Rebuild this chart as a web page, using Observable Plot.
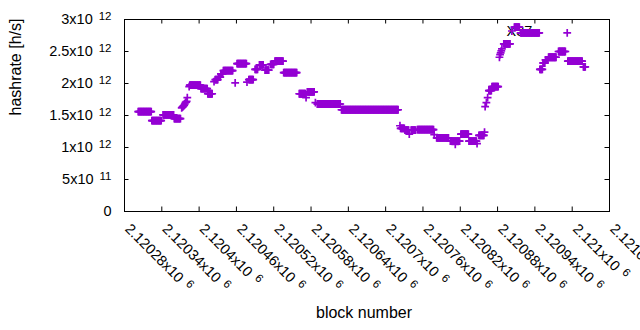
<!DOCTYPE html>
<html><head><meta charset="utf-8">
<script src="https://cdn.jsdelivr.net/npm/d3@7"></script>
<script src="https://cdn.jsdelivr.net/npm/@observablehq/plot@0.6"></script>
<style>html,body{margin:0;padding:0;background:#fff;}</style>
</head><body><div id="chart"></div>
<script>
// Runs of constant estimated hashrate (x10^12 h/s): one point per block from runStart to runEnd
const runStart = [2120302,2120324,2120342,2120360,2120372,2120373,2120374,2120375,2120376,2120377,2120378,2120379,2120380,2120381,2120384,
  2120385,2120403,2120414,2120424,2120426,2120431,2120435,2120439,2120458,2120461,2120477,2120480,2120490,2120497,2120506,2120515,
  2120522,2120536,2120561,2120572,2120574,2120587,2120590,2120629,2120723,2120724,2120731,2120738,2120741,2120751,2120778,
  2120782,2120804,2120812,2120821,2120834,2120847,2120850,2120859,2120860,2120862,2120864,2120866,2120871,2120883,2120884,
  2120885,2120886,2120887,2120890,2120903,2120907,2120917,2120948,2120953,2120957,2120962,2120978,2120992,2120993,2121018];
const runEnd = [2120323,2120339,2120359,2120370,2120372,2120373,2120374,2120375,2120376,2120377,2120378,2120379,2120380,2120381,2120384,
  2120402,2120413,2120421,2120424,2120430,2120434,2120438,2120454,2120458,2120476,2120477,2120487,2120494,2120503,2120512,2120520,
  2120535,2120557,2120571,2120572,2120585,2120587,2120627,2120720,2120723,2120730,2120737,2120738,2120748,2120777,2120778,
  2120801,2120819,2120812,2120833,2120846,2120847,2120858,2120859,2120860,2120862,2120864,2120870,2120881,2120883,2120884,
  2120885,2120886,2120887,2120900,2120903,2120915,2120947,2120952,2120956,2120961,2120974,2120989,2120992,2121016,2121021];
const runHash = [1.56,1.42,1.51,1.45,1.62,1.63,1.64,1.65,1.66,1.68,1.70,1.71,1.72,1.78,1.95,
  1.975,1.92,1.84,2.03,2.06,2.10,2.15,2.20,2.01,2.31,2.02,2.06,2.22,2.29,2.21,2.30,
  2.35,2.17,1.84,1.78,1.87,1.70,1.68,1.59,1.34,1.30,1.27,1.21,1.27,1.28,1.20,
  1.15,1.10,1.05,1.21,1.10,1.06,1.19,1.24,1.64,1.70,1.78,1.89,1.95,2.41,2.45,
  2.48,2.51,2.54,2.62,2.82,2.88,2.79,2.22,2.32,2.37,2.41,2.50,2.79,2.35,2.26];

const xTicks = [2120280,2120340,2120400,2120460,2120520,2120580,2120640,2120700,2120760,2120820,2120880,2120940,2121000,2121060];
const xTickLabels = ["2.12028x10^6","2.12034x10^6","2.1204x10^6","2.12046x10^6","2.12052x10^6","2.12058x10^6","2.12064x10^6",
  "2.1207x10^6","2.12076x10^6","2.12082x10^6","2.12088x10^6","2.12094x10^6","2.121x10^6","2.12106x10^6"];
const yTicks = [0,0.5,1,1.5,2,2.5,3];
const yTickLabels = ["0","5x10^11","1x10^12","1.5x10^12","2x10^12","2.5x10^12","3x10^12"];
const keyText = "X37";

const pts = [];
runStart.forEach((s, i) => { for (let b = s; b <= runEnd[i]; b++) pts.push({block: b, hash: runHash[i]}); });

const plus = { draw(ctx, size) { const h = Math.sqrt(size / Math.PI); ctx.moveTo(-h, 0); ctx.lineTo(h, 0); ctx.moveTo(0, -h); ctx.lineTo(0, h); } };

const mL = 124, mR = 31, mT = 19, mB = 119;
const W = 640 - mL - mR, H = 330 - mT - mB;
const chart = Plot.plot({
  width: 640, height: 330, marginLeft: mL, marginRight: mR, marginTop: mT, marginBottom: mB,
  x: {domain: [2120280, 2121060], axis: null},
  y: {domain: [0, 3], axis: null},
  style: {fontFamily: "'Liberation Sans', Arial, sans-serif", fontSize: "14.5px", color: "#000", background: "#fff"},
  marks: [
    Plot.text([keyText], {frameAnchor: "top-left", dx: 382, dy: 12, textAnchor: "start", lineAnchor: "middle", fill: "#000", fontSize: 14.5}),
    Plot.dot(pts, {x: "block", y: "hash", symbol: plus, r: 3.9, stroke: "#9400d3", strokeWidth: 1.7, fill: "none"}),
    Plot.ruleX(xTicks, {x: d => d, insetTop: H - 4.5, stroke: "#000"}),
    Plot.ruleX(xTicks, {x: d => d, insetBottom: H - 4.5, stroke: "#000"}),
    Plot.ruleY(yTicks, {y: d => d, insetRight: W - 4.5, stroke: "#000"}),
    Plot.ruleY(yTicks, {y: d => d, insetLeft: W - 4.5, stroke: "#000"}),
    Plot.frame({stroke: "#000"}),
    Plot.text(yTicks, {y: d => d, text: (d, i) => yTickLabels[i], frameAnchor: "left", dx: -13, textAnchor: "end", lineAnchor: "middle", fill: "#000"}),
    Plot.text(xTicks, {x: d => d, text: (d, i) => xTickLabels[i], frameAnchor: "bottom", dx: 3, dy: 15, rotate: 45, textAnchor: "start", lineAnchor: "middle", fill: "#000"}),
    Plot.text(["hashrate [h/s]"], {frameAnchor: "left", dx: -108.5, rotate: -90, fontSize: 16, fill: "#000"}),
    Plot.text(["block number"], {frameAnchor: "bottom", dx: -3, dy: 106, fontSize: 16, fill: "#000"})
  ]
});
chart.querySelectorAll("text").forEach(t => {
  const s = t.textContent;
  if (s.includes("^")) {
    const [m, e] = s.split("^");
    t.textContent = m;
    const ts = document.createElementNS("http://www.w3.org/2000/svg", "tspan");
    ts.setAttribute("dx", "6"); ts.setAttribute("dy", "-4.5"); ts.setAttribute("font-size", "11.5");
    ts.textContent = e;
    t.appendChild(ts);
  }
});
document.getElementById("chart").appendChild(chart);
</script></body></html>
